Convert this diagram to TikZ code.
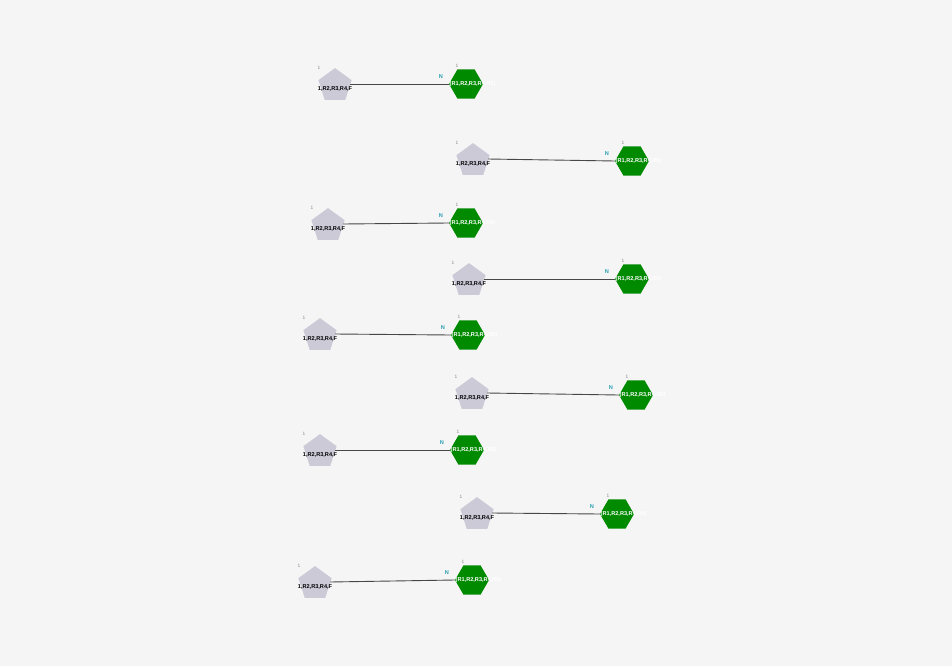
\documentclass[tikz,border=0pt]{standalone}
\usepackage{fontspec}
\setmainfont{Liberation Sans}
\usetikzlibrary{shapes.geometric}
\definecolor{bg}{HTML}{F5F5F5}
\definecolor{pentfill}{HTML}{CDCAD8}
\definecolor{hexfill}{HTML}{008A00}
\definecolor{nlab}{HTML}{2A9FB2}
\definecolor{onelab}{HTML}{8A8A8A}
\definecolor{edgecol}{HTML}{474747}
\tikzset{
  pentnode/.style={regular polygon, regular polygon sides=5, minimum size=35pt, inner sep=0pt, fill=pentfill, draw=none},
  hexnode/.style={regular polygon, regular polygon sides=6, minimum size=34pt, inner sep=0pt, fill=hexfill, draw=none},
  pentlabel/.style={font=\fontsize{5.6}{6}\selectfont\bfseries, text=black, inner sep=0pt},
  hexlabel/.style={font=\fontsize{5.6}{6}\selectfont\bfseries, text=white, inner sep=0pt, anchor=west},
  onelabel/.style={font=\fontsize{4.8}{5}\selectfont, text=onelab, inner sep=0pt},
  nlabel/.style={font=\fontsize{5.6}{6}\selectfont\bfseries, text=nlab, inner sep=0pt},
  link/.style={draw=edgecol, line width=0.9pt}
}
\begin{document}
\begin{tikzpicture}[x=1pt,y=-1pt]
\fill[bg] (0,0) rectangle (952,666);
\useasboundingbox (0,0) rectangle (952,666);
\foreach \i/\px/\py/\hx/\hy in {1/335/84/466/84, 2/473/159/632/161, 3/328/224/466/223, 4/469/279/632/279, 5/320/334/468/335, 6/472/393/636/395, 7/320/450/467/450, 8/477/513/617/514, 9/315/582/472/580}{
  \node[pentnode] (p\i) at (\px,\py+1.6) {};
  \node[hexnode] (h\i) at (\hx,\hy) {};
  \coordinate (pe\i) at ([yshift=1.6pt]p\i.east);
  \draw[link] (pe\i) -- (h\i.west);
  \node[pentlabel] (pl\i) at (\px,\py+5) {1,R2,R3,R4,F};
  \node[hexlabel] (hl\i) at (\hx-16.5,\hy) {(R1,R2,R3,R4,R5)};
  \node[onelabel] (po\i) at (\px-16,\py-16) {1};
  \node[onelabel] (ho\i) at (\hx-9,\hy-18) {1};
  \node[nlabel] (n\i) at (\hx-25,\hy-7) {N};
}
\end{tikzpicture}
\end{document}
